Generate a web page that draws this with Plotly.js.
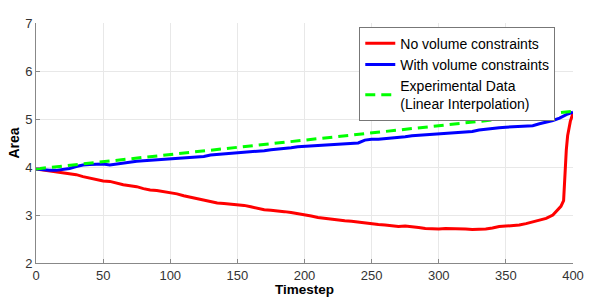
<!DOCTYPE html>
<html><head><meta charset="utf-8">
<script src="https://cdn.plot.ly/plotly-3.0.1.min.js"></script>
<style>html,body{margin:0;padding:0;background:#fff}#chart{width:598px;height:297px}</style>
</head><body><div id="chart"></div>
<script>
const redT = [0,5,10,15,20,25,30,35,40,45,50,55,60,65,70,75,80,85,90,95,100,105,110,115,120,125,130,135,140,145,150,155,160,165,170,175,180,185,190,195,200,205,210,215,220,225,230,235,240,245,250,255,260,265,270,275,280,285,290,295,300,305,310,315,320,325,330,335,340,345,350,355,360,365,370,375,380,385,388,391,393,394,395,396,398,400];
const redY = [3.96,3.94,3.92,3.90,3.88,3.86,3.84,3.80,3.77,3.74,3.71,3.70,3.66,3.63,3.61,3.59,3.55,3.52,3.51,3.49,3.47,3.44,3.40,3.37,3.34,3.30,3.27,3.25,3.24,3.23,3.22,3.20,3.17,3.14,3.11,3.10,3.09,3.07,3.05,3.03,3.01,2.98,2.95,2.93,2.92,2.90,2.88,2.87,2.85,2.83,2.81,2.80,2.79,2.78,2.76,2.77,2.76,2.74,2.72,2.71,2.71,2.72,2.72,2.72,2.71,2.70,2.70,2.71,2.73,2.76,2.77,2.78,2.79,2.82,2.86,2.89,2.93,3.00,3.08,3.18,3.30,3.90,4.35,4.65,4.95,5.12];
const blueT = [0,5,10,15,20,25,30,35,40,45,50,55,60,65,70,75,80,85,90,95,100,105,110,115,120,125,130,135,140,145,150,155,160,165,170,175,180,185,190,195,200,205,210,215,220,225,230,235,240,245,250,255,260,265,270,275,280,285,290,295,300,305,310,315,320,325,330,335,340,345,350,355,360,365,370,375,380,385,390,395,400];
const blueY = [3.96,3.94,3.93,3.93,3.95,3.97,4.01,4.04,4.05,4.06,4.06,4.04,4.06,4.09,4.10,4.12,4.13,4.14,4.15,4.16,4.17,4.18,4.18,4.19,4.20,4.22,4.25,4.26,4.27,4.28,4.29,4.30,4.31,4.32,4.34,4.36,4.37,4.39,4.40,4.42,4.43,4.44,4.44,4.46,4.47,4.48,4.49,4.50,4.50,4.56,4.58,4.58,4.59,4.60,4.62,4.63,4.65,4.66,4.67,4.68,4.70,4.70,4.72,4.73,4.74,4.74,4.77,4.79,4.81,4.82,4.83,4.84,4.84,4.85,4.86,4.90,4.93,4.97,5.02,5.09,5.14];
const expT = [0,400];
const expY = [3.96,5.16];
const names = ['No volume constraints','With volume constraints','Experimental Data<br>(Linear Interpolation)'];
const xTicks = [0,50,100,150,200,250,300,350,400];
const yTicks = [2,3,4,5,6,7];

const font = 'Liberation Sans, Arial, Helvetica, sans-serif';
const data = [
  {x: redT, y: redY, name: names[0], mode: 'lines', line: {color: '#ff0000', width: 3}},
  {x: blueT, y: blueY, name: names[1], mode: 'lines', line: {color: '#0000ff', width: 3}},
  {x: expT, y: expY, name: names[2], mode: 'lines', line: {color: '#00ff00', width: 3, dash: '10px,6px'}}
];
const axisCommon = {
  showgrid: true, gridcolor: '#e8e8e8', gridwidth: 1,
  showline: true, linecolor: '#888', linewidth: 1,
  ticks: 'inside', ticklen: 4, tickcolor: '#888',
  zeroline: false, tickfont: {family: font, size: 13, color: '#333'}
};
const layout = {
  width: 598, height: 297,
  margin: {l: 36, r: 25, t: 23, b: 34},
  paper_bgcolor: '#fff', plot_bgcolor: '#fff',
  showlegend: true,
  font: {family: font},
  xaxis: Object.assign({}, axisCommon, {
    range: [0, 400], tickvals: xTicks, ticktext: xTicks.map(String),
    title: {text: '<b>Timestep</b>', font: {family: font, size: 13.5, color: '#000'}, standoff: 4}
  }),
  yaxis: Object.assign({}, axisCommon, {
    range: [2, 7], tickvals: yTicks, ticktext: yTicks.map(String),
    title: {text: '<b>Area</b>', font: {family: font, size: 14, color: '#000'}, standoff: 2}
  }),
  legend: {
    x: 0.967, xanchor: 'right', y: 0.985, yanchor: 'top',
    bgcolor: '#fff', bordercolor: '#777', borderwidth: 1,
    font: {family: font, size: 14, color: '#000'},
    itemwidth: 30, tracegroupgap: 0
  }
};
Plotly.newPlot('chart', data, layout, {displayModeBar: false, staticPlot: true});
</script></body></html>
